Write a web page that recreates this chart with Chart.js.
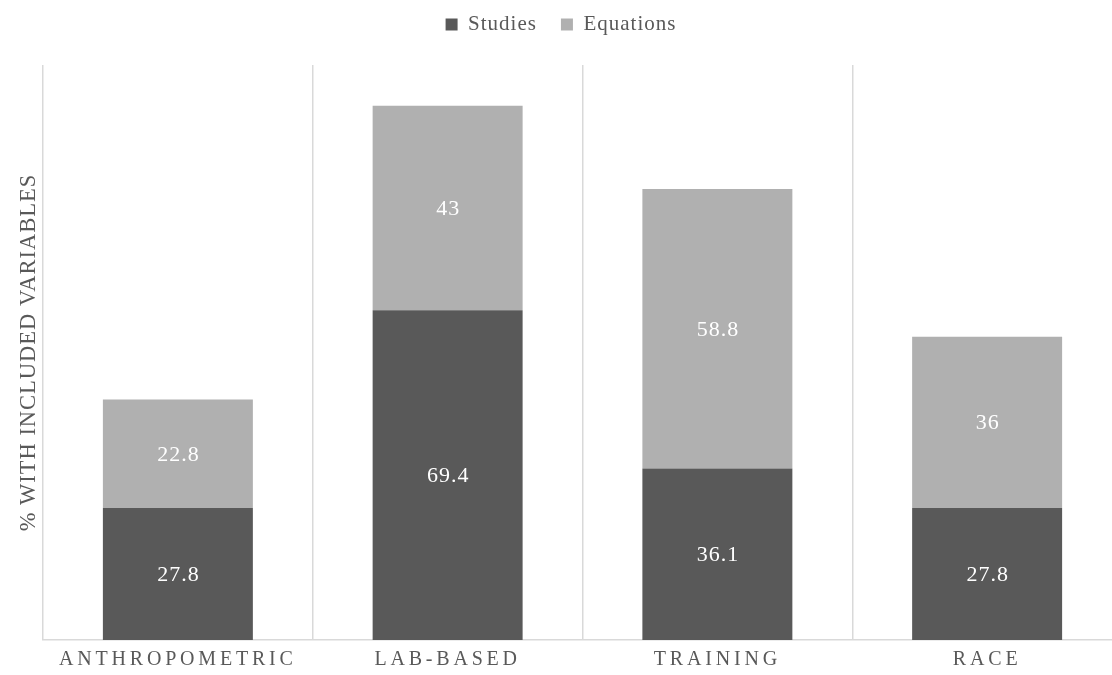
<!DOCTYPE html>
<html>
<head>
<meta charset="utf-8">
<script src="https://cdn.jsdelivr.net/npm/chart.js@4/dist/chart.umd.min.js"></script>
<style>
  html, body { margin: 0; padding: 0; background: #ffffff; overflow: hidden; }
  #frame { width: 1112px; height: 675px; overflow: hidden; }
  canvas { display: block; }
</style>
</head>
<body>
<div id="frame"><canvas id="chart" width="1122" height="675" style="width:1122px;height:675px"></canvas></div>
<script>
// Categories and series
const categories = ['ANTHROPOMETRIC', 'LAB-BASED', 'TRAINING', 'RACE'];
const seriesNames = ['Studies', 'Equations'];
const studies = [27.8, 69.4, 36.1, 27.8];
const equations = [22.8, 43, 58.8, 36];
const yAxisTitle = '% WITH INCLUDED VARIABLES';

const SERIF = "'Liberation Serif', 'Times New Roman', serif";
const TEXT = '#595959';
const DARK = '#595959';
const LIGHT = '#b0b0b0';
const GRID = '#d9d9d9';

// Wrap a draw/measure method so its text uses a given letter spacing
function spaced(target, method, spacing) {
  const orig = target && target[method];
  if (!orig || orig.__spaced) return;
  const fn = function (...args) {
    const ctx = this.ctx;
    const prev = ctx.letterSpacing;
    ctx.letterSpacing = spacing;
    try { return orig.apply(this, args); } finally { ctx.letterSpacing = prev; }
  };
  fn.__spaced = true;
  target[method] = fn;
}

const letterSpacing = {
  id: 'letterSpacing',
  beforeLayout(chart) {
    if (chart.legend) {
      spaced(chart.legend, 'fit', '1px');
      spaced(chart.legend, 'draw', '1px');
    }
  },
  beforeDraw(chart) {
    spaced(chart.scales.x, 'drawLabels', '3.8px');
    spaced(chart.scales.y, 'drawTitle', '1px');
  }
};

// Empty layout box that keeps some room between the legend and the plot
const legendGap = {
  id: 'legendGap',
  beforeInit(chart) {
    const box = {
      options: {},
      position: 'top',
      weight: 500,
      fullSize: true,
      top: 0, left: 0, right: 0, bottom: 0, width: 0, height: 0,
      isHorizontal() { return true; },
      update(maxWidth) { this.width = maxWidth; this.height = 20; },
      draw() {}
    };
    Chart.layouts.addBox(chart, box);
  }
};

// Value labels centred in each stacked segment
const segmentLabels = {
  id: 'segmentLabels',
  afterDatasetsDraw(chart) {
    const ctx = chart.ctx;
    ctx.save();
    ctx.font = '22px ' + SERIF;
    ctx.fillStyle = '#ffffff';
    ctx.textAlign = 'center';
    ctx.textBaseline = 'middle';
    ctx.letterSpacing = '1px';
    chart.data.datasets.forEach((ds, i) => {
      const meta = chart.getDatasetMeta(i);
      if (meta.hidden) return;
      meta.data.forEach((bar, j) => {
        const { x, y, base } = bar.getProps(['x', 'y', 'base'], true);
        ctx.fillText(String(ds.data[j]), x + 0.5, (y + base) / 2 + 1);
      });
    });
    ctx.restore();
  }
};

new Chart(document.getElementById('chart'), {
  type: 'bar',
  data: {
    labels: categories,
    datasets: [
      { label: seriesNames[0], data: studies, backgroundColor: DARK, borderWidth: 0 },
      { label: seriesNames[1], data: equations, backgroundColor: LIGHT, borderWidth: 0 }
    ]
  },
  options: {
    responsive: false,
    devicePixelRatio: 1,
    animation: false,
    datasets: { bar: { barPercentage: 0.556, categoryPercentage: 1 } },
    layout: { padding: { top: -10, left: 0, right: 0, bottom: -5 } },
    plugins: {
      tooltip: { enabled: false },
      legend: {
        position: 'top',
        align: 'center',
        labels: {
          color: TEXT,
          font: { family: SERIF, size: 21 },
          boxWidth: 12,
          boxHeight: 12,
          padding: 24
        }
      }
    },
    scales: {
      x: {
        stacked: true,
        offset: true,
        grid: { offset: true, color: GRID, lineWidth: 1.5, drawTicks: false },
        border: { display: true, color: GRID, width: 1.5 },
        ticks: {
          color: TEXT,
          font: { family: SERIF, size: 20 },
          padding: 8,
          maxRotation: 0,
          autoSkip: false
        }
      },
      y: {
        stacked: true,
        min: 0,
        max: 121,
        grid: { display: false, drawTicks: false },
        border: { display: false },
        ticks: { display: false },
        title: {
          display: true,
          text: yAxisTitle,
          color: TEXT,
          font: { family: SERIF, size: 22.5 },
          padding: { top: 16, bottom: 0 }
        }
      }
    }
  },
  plugins: [legendGap, letterSpacing, segmentLabels]
});
</script>
</body>
</html>
